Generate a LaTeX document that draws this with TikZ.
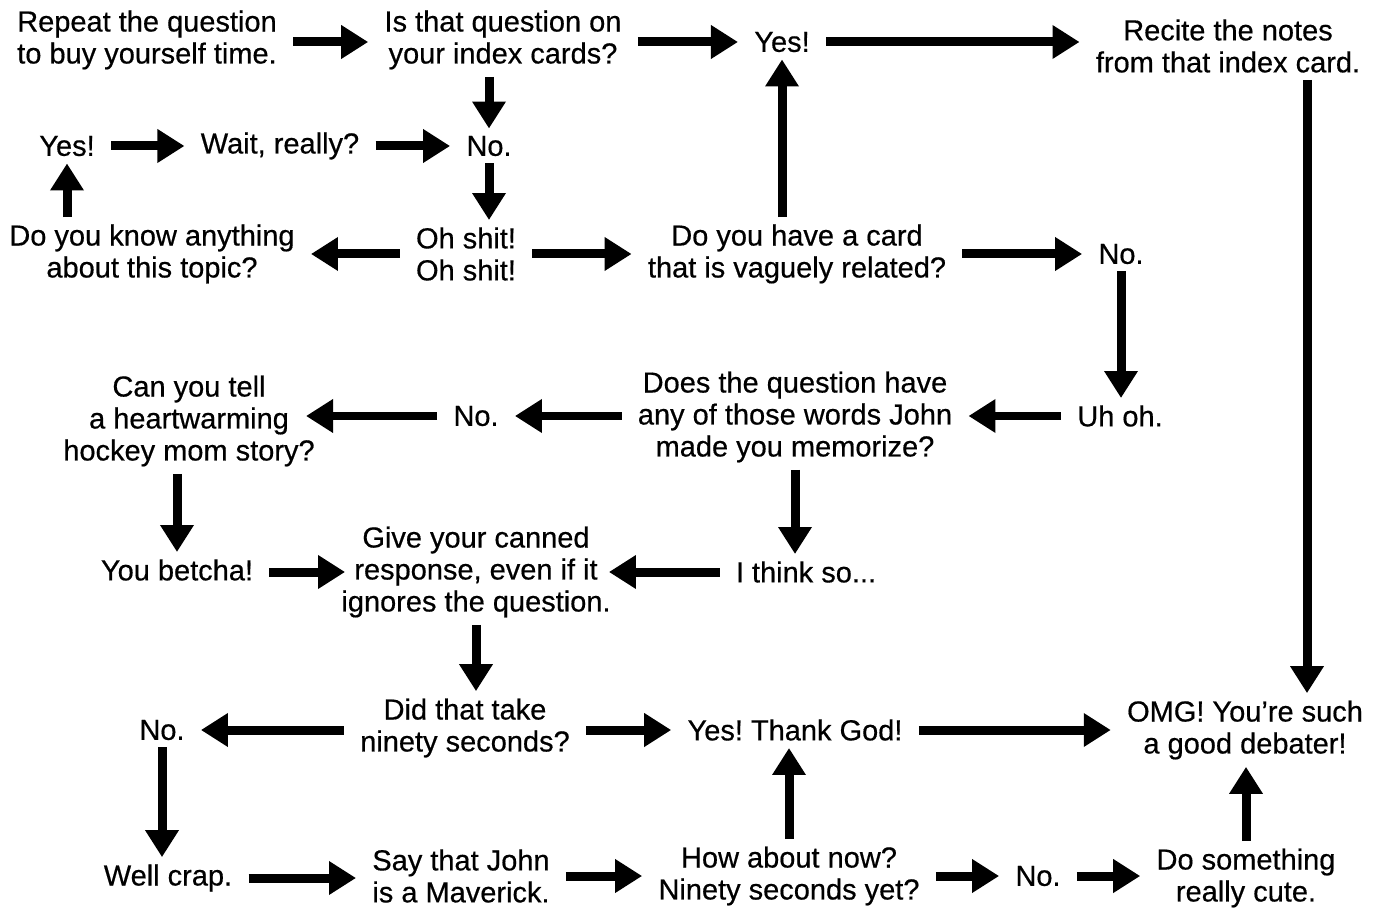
\documentclass[tikz,border=0pt]{standalone}
\usepackage{fontspec}
\setmainfont[FakeBold=0.5]{Liberation Sans}
\usetikzlibrary{arrows.meta,calc}

\tikzset{
  lbl/.style={align=center, inner xsep=0.32cm, inner ysep=0.14cm,
    font=\fontsize{16.5}{18.2}\selectfont},
  arr/.style={line width=0.18cm, -{Triangle[length=0.54cm,width=0.64cm]}}
}
\frenchspacing

\begin{document}
\begin{tikzpicture}[x=0.02cm,y=-0.02cm]
  \useasboundingbox (0,0) rectangle (1378,908);

  \node[lbl] (rq)   at (147,40)  {Repeat the question\\to buy yourself time.};
  \node[lbl] (ic)   at (503,40)  {Is that question on\\your index cards?};
  \node[lbl] (yes1) at (782,42)  {Yes!};
  \node[lbl] (rn)   at (1228,46) {Recite the notes\\from that index card.};

  \node[lbl] (yes2) at (67,146)  {Yes!};
  \node[lbl] (wr)   at (280,146) {Wait, really?};
  \node[lbl] (no1)  at (489,146) {No.};

  \node[lbl] (dk)   at (152,254) {Do you know anything\\about this topic?};
  \node[lbl] (os)   at (466,254) {Oh shit!\\Oh shit!};
  \node[lbl] (dc)   at (797,254) {Do you have a card\\that is vaguely related?};
  \node[lbl] (no2)  at (1121,254) {No.};

  \node[lbl] (ct)   at (189,421) {Can you tell\\a heartwarming\\hockey mom story?};
  \node[lbl] (no3)  at (476,416) {No.};
  \node[lbl] (dq)   at (795,417) {Does the question have\\any of those words John\\made you memorize?};
  \node[lbl] (uh)   at (1120,416) {Uh oh.};

  \node[lbl] (yb)   at (177,570) {You betcha!};
  \node[lbl] (gc)   at (476,572) {Give your canned\\response, even if it\\ignores the question.};
  \node[lbl] (ts)   at (806,572) {I think so...};

  \node[lbl] (no4)  at (162,730) {No.};
  \node[lbl] (dt)   at (465,728) {Did that take\\ninety seconds?};
  \node[lbl] (ytg)  at (795,730) {Yes! Thank God!};
  \node[lbl] (omg)  at (1245,730) {OMG! You're such\\a good debater!};

  \node[lbl] (wc)   at (168,878) {Well crap.};
  \node[lbl] (sj)   at (461,876) {Say that John\\is a Maverick.};
  \node[lbl] (ha)   at (789,876) {How about now?\\Ninety seconds yet?};
  \node[lbl] (no5)  at (1038,876) {No.};
  \node[lbl] (ds)   at (1246,878) {Do something\\really cute.};

  \draw[arr] (rq.east |- yes1) -- (ic.west |- yes1);
  \draw[arr] (ic.east |- yes1) -- (yes1.west);
  \draw[arr] (yes1.east) -- (yes1.east -| rn.west);
  \draw[arr] (ic.south -| no1) -- (no1.north);
  \draw[arr] (yes2) -- (wr);
  \draw[arr] (wr) -- (no1);
  \draw[arr] (no1.south) -- (no1.south |- os.north);
  \draw[arr] (dk.north -| yes2) -- (yes2.south);
  \draw[arr] (os) -- (dk);
  \draw[arr] (os) -- (dc);
  \draw[arr] (dc.north -| yes1) -- (yes1.south);
  \draw[arr] (dc) -- (no2);
  \draw[arr] (no2.south) -- (no2.south |- uh.north);
  \draw[arr] ($(rn.south)+(79,0)$) -- ($(omg.north)+(62,0)$);
  \draw[arr] (uh.west) -- (uh.west -| dq.east);
  \draw[arr] (dq.west |- no3) -- (no3.east);
  \draw[arr, shorten >=-0.5cm] (no3.west) -- (no3.west -| ct.east);
  \draw[arr] (ct.south -| yb) -- (yb.north);
  \draw[arr, shorten >=-0.4cm] (yb.east |- gc) -- (gc.west);
  \draw[arr, shorten >=-0.36cm] (ts) -- (gc);
  \draw[arr] (dq.south) -- (dq.south |- ts.north);
  \draw[arr] (gc.south) -- (gc.south |- dt.north);
  \draw[arr] (dt.west |- no4) -- (no4.east);
  \draw[arr] (dt.east |- ytg) -- (ytg.west);
  \draw[arr] (ytg) -- (omg);
  \draw[arr] (no4.south) -- (no4.south |- wc.north);
  \draw[arr] (wc) -- (wc -| sj.west);
  \draw[arr] (sj) -- (ha);
  \draw[arr] (ha.north) -- (ha.north |- ytg.south);
  \draw[arr] (ha) -- (no5);
  \draw[arr] (no5) -- (no5 -| ds.west);
  \draw[arr] (ds.north) -- (ds.north |- omg.south);
\end{tikzpicture}
\end{document}
